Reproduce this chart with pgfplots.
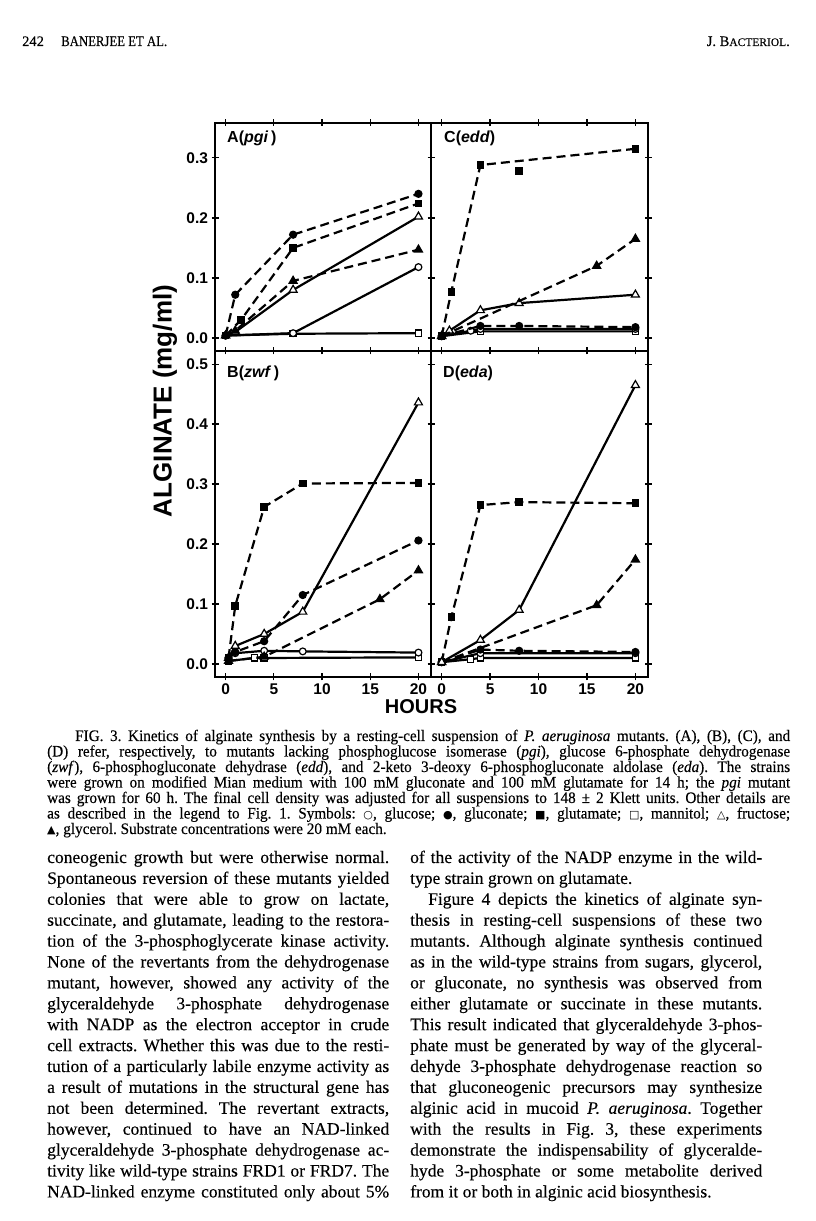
\documentclass[border=0pt]{standalone}
\usepackage{pgfplots}
\pgfplotsset{compat=1.18}
\usepackage{fontspec}
\setmainfont{Liberation Serif}
\setsansfont{Liberation Sans}
\newfontfamily\symfont{DejaVu Sans}
\newfontfamily\capfont[FakeStretch=0.95,FakeBold=0.25]{Liberation Serif}
\newfontfamily\bodyfont[FakeBold=0.25]{Liberation Serif}
\newcommand{\sym}[1]{{\symfont\fontsize{11}{11}\selectfont #1}}
\frenchspacing
% justified line: x, y (from top), width, text
\newcommand{\jl}[4]{\node[anchor=base west,inner sep=0pt] at (#1,1221-#2) {\makebox[#3pt][s]{#4}};}
% plain line
\newcommand{\pl}[3]{\node[anchor=base west,inner sep=0pt] at (#1,1221-#2) {#3};}

\pgfplotsset{
  panel/.style={
    scale only axis, clip mode=individual,
    xmin=-1.1, xmax=21.3,
    axis line style={line width=1.5pt},
    tick style={line width=1.3pt, black},
    tick align=center, major tick length=7pt,
    xtick={0,5,10,15,20},
    xtick pos=both, ytick pos=both,
    ticklabel style={font=\sffamily\bfseries\fontsize{15.5}{15.5}\selectfont},
  },
  top/.style={panel, width=216pt, height=228pt, ymin=-0.0217, ymax=0.358,
    ytick={0,0.1,0.2,0.3}, xticklabels={}},
  bot/.style={panel, width=216pt, height=326pt, ymin=-0.0217, ymax=0.522,
    ytick={0,0.1,0.2,0.3,0.4,0.5}, xticklabels={0,5,10,15,20}},
  base/.style={black, line width=2.2pt, mark options={solid, line width=1.2pt}},
  dsh/.style={base, dash pattern=on 9pt off 5pt},
  glc/.style={base, mark=*, mark size=3.4pt, mark options={solid, fill=white, line width=1.2pt}},
  glcn/.style={dsh, mark=*, mark size=3.5pt},
  glut/.style={dsh, mark=square*, mark size=3.2pt},
  mann/.style={base, mark=square*, mark size=3.1pt, mark options={solid, fill=white, line width=1.2pt}},
  fru/.style={base, mark=triangle*, mark size=4.6pt, mark options={solid, fill=white, line width=1.2pt}},
  gly/.style={dsh, mark=triangle*, mark size=4.6pt},
}

\begin{document}
\begin{tikzpicture}[x=1pt,y=1pt]
\fill[white] (0,0) rectangle (816,1221);

% ---------- panel A (pgi)
\begin{axis}[top, at={(215pt,870pt)}, anchor=south west,
  yticklabels={0.0,0.1,0.2,0.3}]
\addplot[mann] coordinates {(0,0.004)(7,0.007)(20,0.008)};
\addplot[glc] coordinates {(0,0.004)(7,0.008)(20,0.118)};
\addplot[fru] coordinates {(0,0.004)(1,0.01)(7,0.08)(20,0.202)};
\addplot[gly] coordinates {(0,0.004)(1,0.012)(7,0.095)(20,0.147)};
\addplot[glut] coordinates {(0,0.004)(1.6,0.03)(7,0.15)(20,0.224)};
\addplot[glcn] coordinates {(0,0.004)(1,0.072)(7,0.172)(20,0.24)};
\end{axis}

% ---------- panel C (edd)
\begin{axis}[top, at={(431pt,870pt)}, anchor=south west, width=217pt,
  yticklabels={}]
\addplot[mann] coordinates {(0,0.003)(4,0.011)(20,0.011)};
\addplot[glc] coordinates {(0,0.003)(3,0.012)(4,0.015)(20,0.015)};
\addplot[glcn] coordinates {(0,0.003)(4,0.02)(8,0.02)(20,0.018)};
\addplot[fru] coordinates {(0,0.003)(0.8,0.012)(4,0.046)(8,0.058)(20,0.072)};
\addplot[gly] coordinates {(0,0.003)(16,0.12)(20,0.165)};
\addplot[glut] coordinates {(0,0.003)(1,0.077)(4,0.288)(20,0.315)};
\addplot[glut, only marks] coordinates {(8,0.278)};
\end{axis}

% ---------- panel B (zwf)
\begin{axis}[bot, at={(215pt,544pt)}, anchor=south west,
  yticklabels={0.0,0.1,0.2,0.3,0.4,0.5}]
\addplot[mann] coordinates {(0.3,0.005)(3,0.01)(4,0.01)(20,0.011)};
\addplot[glc] coordinates {(0.3,0.01)(1,0.018)(4,0.022)(8,0.021)(20,0.019)};
\addplot[gly] coordinates {(0.3,0.005)(4,0.012)(16,0.108)(20,0.156)};
\addplot[glcn] coordinates {(0.3,0.01)(1,0.02)(4,0.038)(8,0.115)(20,0.206)};
\addplot[fru] coordinates {(0.3,0.01)(1,0.03)(4,0.05)(8,0.087)(20,0.436)};
\addplot[glut] coordinates {(0.3,0.01)(1,0.097)(4,0.262)(8,0.301)(20,0.302)};
\end{axis}

% ---------- panel D (eda)
\begin{axis}[bot, at={(431pt,544pt)}, anchor=south west, width=217pt,
  yticklabels={}]
\addplot[mann] coordinates {(0,0.003)(3,0.008)(4,0.01)(20,0.01)};
\addplot[glc] coordinates {(0,0.003)(4,0.018)(20,0.018)};
\addplot[glcn] coordinates {(0,0.003)(4,0.024)(8,0.022)(20,0.02)};
\addplot[gly] coordinates {(0,0.003)(16,0.098)(20,0.174)};
\addplot[glut] coordinates {(0,0.003)(1,0.078)(4,0.265)(8,0.27)(20,0.268)};
\addplot[fru] coordinates {(0,0.003)(4,0.04)(8,0.09)(20,0.465)};
\end{axis}

% panel letters and axis titles
\begin{scope}[font=\sffamily\bfseries\fontsize{16}{16}\selectfont]
\node[anchor=north west,inner sep=0pt] at (227,1221-131) {A(\textit{pgi}\,)};
\node[anchor=north west,inner sep=0pt] at (444,1221-131) {C(\textit{edd})};
\node[anchor=north west,inner sep=0pt] at (227,1221-366) {B(\textit{zwf}\,)};
\node[anchor=north west,inner sep=0pt] at (443,1221-366) {D(\textit{eda})};
\end{scope}
\node[rotate=90,font=\sffamily\bfseries\fontsize{26}{26}\selectfont] at (165,1221-401) {ALGINATE (mg/ml)};
\node[font=\sffamily\bfseries\fontsize{20}{20}\selectfont] at (421,1221-707) {HOURS};

% running head
\begin{scope}[font=\bodyfont\fontsize{14.5}{16}\selectfont]
\pl{22}{46}{242}
\pl{61}{46}{\scalebox{0.88}[1]{BANERJEE ET AL.}}
\node[anchor=base east,inner sep=0pt] at (790,1221-46) {J. B{\fontsize{11.5}{11.5}\selectfont ACTERIOL}.};
\end{scope}

% caption
\begin{scope}[font=\capfont\fontsize{16}{16}\selectfont]
\jl{75}{741}{715}{FIG. 3. Kinetics of alginate synthesis by a resting-cell suspension of \textit{P. aeruginosa} mutants. (A), (B), (C), and}
\jl{47}{756.5}{743}{(D) refer, respectively, to mutants lacking phosphoglucose isomerase (\textit{pgi}), glucose 6-phosphate dehydrogenase}
\jl{47}{772}{743}{(\textit{zwf}), 6-phosphogluconate dehydrase (\textit{edd}), and 2-keto 3-deoxy 6-phosphogluconate aldolase (\textit{eda}). The strains}
\jl{47}{787.5}{743}{were grown on modified Mian medium with 100 mM gluconate and 100 mM glutamate for 14 h; the \textit{pgi} mutant}
\jl{47}{803}{743}{was grown for 60 h. The final cell density was adjusted for all suspensions to 148 ± 2 Klett units. Other details are}
\jl{47}{818.5}{743}{as described in the legend to Fig. 1. Symbols: \sym{○}, glucose; \sym{●}, gluconate; \sym{■}, glutamate; \sym{□}, mannitol; \sym{△}, fructose;}
\pl{47}{834}{\sym{▲}, glycerol. Substrate concentrations were 20 mM each.}
\end{scope}

% body text, left column
\begin{scope}[font=\bodyfont\fontsize{17.5}{20}\selectfont]
\jl{47}{863}{342}{coneogenic growth but were otherwise normal.}
\jl{47}{883.9}{342}{Spontaneous reversion of these mutants yielded}
\jl{47}{904.8}{342}{colonies that were able to grow on lactate,}
\jl{47}{925.7}{342}{succinate, and glutamate, leading to the restora-}
\jl{47}{946.6}{342}{tion of the 3-phosphoglycerate kinase activity.}
\jl{47}{967.5}{342}{None of the revertants from the dehydrogenase}
\jl{47}{988.4}{342}{mutant, however, showed any activity of the}
\jl{47}{1009.3}{342}{glyceraldehyde 3-phosphate dehydrogenase}
\jl{47}{1030.2}{342}{with NADP as the electron acceptor in crude}
\jl{47}{1051.1}{342}{cell extracts. Whether this was due to the resti-}
\jl{47}{1072}{342}{tution of a particularly labile enzyme activity as}
\jl{47}{1092.9}{342}{a result of mutations in the structural gene has}
\jl{47}{1113.8}{342}{not been determined. The revertant extracts,}
\jl{47}{1134.7}{342}{however, continued to have an NAD-linked}
\jl{47}{1155.6}{342}{glyceraldehyde 3-phosphate dehydrogenase ac-}
\jl{47}{1176.5}{342}{tivity like wild-type strains FRD1 or FRD7. The}
\jl{47}{1197.4}{342}{NAD-linked enzyme constituted only about 5\%}
% right column
\jl{410}{863}{352}{of the activity of the NADP enzyme in the wild-}
\pl{410}{883.9}{type strain grown on glutamate.}
\jl{428}{904.8}{334}{Figure 4 depicts the kinetics of alginate syn-}
\jl{410}{925.7}{352}{thesis in resting-cell suspensions of these two}
\jl{410}{946.6}{352}{mutants. Although alginate synthesis continued}
\jl{410}{967.5}{352}{as in the wild-type strains from sugars, glycerol,}
\jl{410}{988.4}{352}{or gluconate, no synthesis was observed from}
\jl{410}{1009.3}{352}{either glutamate or succinate in these mutants.}
\jl{410}{1030.2}{352}{This result indicated that glyceraldehyde 3-phos-}
\jl{410}{1051.1}{352}{phate must be generated by way of the glyceral-}
\jl{410}{1072}{352}{dehyde 3-phosphate dehydrogenase reaction so}
\jl{410}{1092.9}{352}{that gluconeogenic precursors may synthesize}
\jl{410}{1113.8}{352}{alginic acid in mucoid \textit{P. aeruginosa}. Together}
\jl{410}{1134.7}{352}{with the results in Fig. 3, these experiments}
\jl{410}{1155.6}{352}{demonstrate the indispensability of glyceralde-}
\jl{410}{1176.5}{352}{hyde 3-phosphate or some metabolite derived}
\pl{410}{1197.4}{from it or both in alginic acid biosynthesis.}
\end{scope}
\end{tikzpicture}
\end{document}
